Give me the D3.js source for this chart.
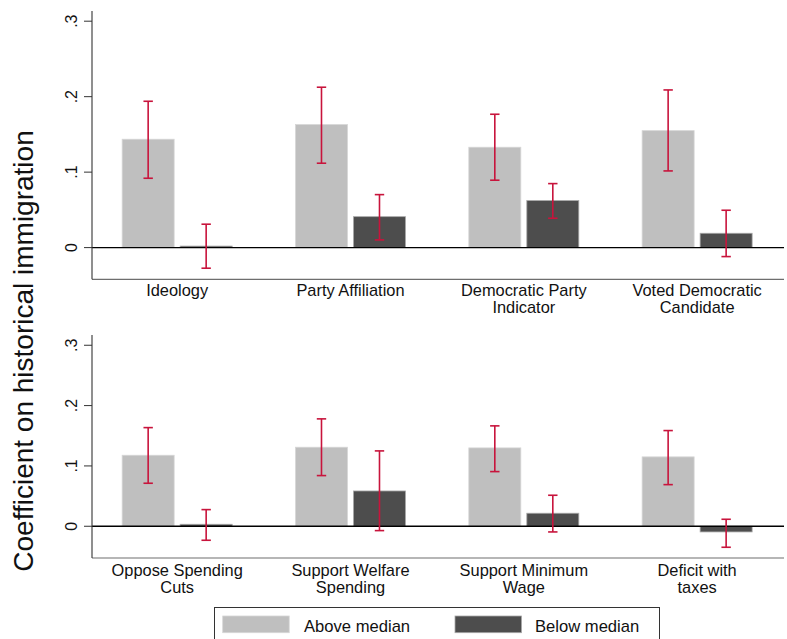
<!DOCTYPE html>
<html><head><meta charset="utf-8">
<script src="https://cdn.jsdelivr.net/npm/d3@7"></script>
<style>
html,body{margin:0;padding:0;background:#fff;}
svg{display:block;font-family:"Liberation Sans",Arial,Helvetica,sans-serif;}
</style></head>
<body>
<svg id="chart" width="787" height="639"></svg>
<script>
// ---- data ----
const topCategories = ["Ideology", "Party Affiliation", "Democratic Party\nIndicator", "Voted Democratic\nCandidate"];
const topAbove   = [0.1436, 0.163, 0.133, 0.155];
const topAboveLo = [0.0919, 0.1118, 0.0893, 0.1016];
const topAboveHi = [0.1939, 0.2125, 0.1767, 0.2089];
const topBelow   = [0.002, 0.041, 0.0623, 0.019];
const topBelowLo = [-0.0273, 0.0102, 0.0389, -0.0119];
const topBelowHi = [0.031, 0.0702, 0.0848, 0.0495];

const bottomCategories = ["Oppose Spending\nCuts", "Support Welfare\nSpending", "Support Minimum\nWage", "Deficit with\ntaxes"];
const bottomAbove   = [0.1177, 0.131, 0.1299, 0.115];
const bottomAboveLo = [0.0713, 0.084, 0.0906, 0.069];
const bottomAboveHi = [0.1635, 0.178, 0.1664, 0.1586];
const bottomBelow   = [0.0033, 0.0585, 0.0216, -0.0094];
const bottomBelowLo = [-0.0232, -0.0072, -0.0094, -0.0348];
const bottomBelowHi = [0.0276, 0.1249, 0.0514, 0.0116];

const yTicks = [0, 0.1, 0.2, 0.3];
const yTickLabels = ["0", ".1", ".2", ".3"];
const topDomain = [-0.042, 0.3135];
const bottomDomain = [-0.0526, 0.317];
const seriesNames = ["Above median", "Below median"];
const yTitle = "Coefficient on historical immigration";

// ---- styles ----
const colAbove = "#bfbfbf", colBelow = "#4d4d4d", colErr = "#c8143c";
const svg = d3.select("#chart");

function drawPanel(cats, above, aLo, aHi, below, bLo, bHi, domain, yRange, labelBase) {
  const x0 = 92, x1 = 784;
  const x = d3.scaleBand().domain(cats).range([90.5, 783.8]).padding(0);
  const inner = d3.scaleBand().domain(["above", "below"]).range([-55, 55]).paddingInner(0.1034);
  const y = d3.scaleLinear().domain(domain).range(yRange);
  const g = svg.append("g");

  // axes lines
  g.append("line").attr("x1", x0).attr("x2", x1).attr("y1", y(domain[0])).attr("y2", y(domain[0]))
    .attr("stroke", "#6e6e6e").attr("stroke-width", 1.2);

  const recs = [];
  cats.forEach((c, i) => {
    recs.push({c, k: "above", v: above[i], lo: aLo[i], hi: aHi[i]});
    recs.push({c, k: "below", v: below[i], lo: bLo[i], hi: bHi[i]});
  });
  const cx = d => x(d.c) + x.bandwidth() / 2 + inner(d.k) + inner.bandwidth() / 2;

  g.selectAll("rect.bar").data(recs).join("rect")
    .attr("x", d => x(d.c) + x.bandwidth() / 2 + inner(d.k))
    .attr("width", inner.bandwidth())
    .attr("y", d => y(Math.max(0, d.v)))
    .attr("height", d => Math.abs(y(d.v) - y(0)))
    .attr("fill", d => d.k === "above" ? colAbove : colBelow)
    .attr("stroke", d => d.k === "above" ? "#d6d6d6" : "#a8a8a8")
    .attr("stroke-width", 0.8);

  // zero line
  g.append("line").attr("x1", x0).attr("x2", x1).attr("y1", y(0)).attr("y2", y(0))
    .attr("stroke", "#000").attr("stroke-width", 1.4);

  // error bars
  const eb = g.selectAll("g.eb").data(recs).join("g").attr("stroke", colErr).attr("stroke-width", 1.6);
  eb.append("line").attr("x1", cx).attr("x2", cx).attr("y1", d => y(d.lo)).attr("y2", d => y(d.hi));
  eb.append("line").attr("x1", d => cx(d) - 4.7).attr("x2", d => cx(d) + 4.7).attr("y1", d => y(d.hi)).attr("y2", d => y(d.hi));
  eb.append("line").attr("x1", d => cx(d) - 4.7).attr("x2", d => cx(d) + 4.7).attr("y1", d => y(d.lo)).attr("y2", d => y(d.lo));

  // y axis
  g.append("line").attr("x1", x0).attr("x2", x0).attr("y1", y(domain[1])).attr("y2", y(domain[0]))
    .attr("stroke", "#333").attr("stroke-width", 1.1);
  yTicks.forEach((t, i) => {
    g.append("line").attr("x1", x0 - 8).attr("x2", x0).attr("y1", y(t)).attr("y2", y(t))
      .attr("stroke", "#333").attr("stroke-width", 1);
    g.append("text").attr("transform", `translate(77.3,${y(t)}) rotate(-90)`)
      .attr("text-anchor", "middle").attr("font-size", 16).attr("fill", "#111").text(yTickLabels[i]);
  });

  // category labels
  cats.forEach(c => {
    const lines = c.split("\n");
    const t = g.append("text").attr("text-anchor", "middle").attr("font-size", 16.4).attr("fill", "#111");
    lines.forEach((ln, j) => {
      t.append("tspan").attr("x", x(c) + x.bandwidth() / 2).attr("y", labelBase + j * 17).text(ln);
    });
  });
}

drawPanel(topCategories, topAbove, topAboveLo, topAboveHi, topBelow, topBelowLo, topBelowHi,
  topDomain, [279.3, 11], 296.3);
drawPanel(bottomCategories, bottomAbove, bottomAboveLo, bottomAboveHi, bottomBelow, bottomBelowLo, bottomBelowHi,
  bottomDomain, [558, 335], 576.3);

// y title
svg.append("text").attr("transform", "translate(32.5,351) rotate(-90)")
  .attr("text-anchor", "middle").attr("font-size", 28).attr("fill", "#111").text(yTitle);

// legend
const lg = svg.append("g");
lg.append("rect").attr("x", 214.5).attr("y", 607.5).attr("width", 445).attr("height", 60)
  .attr("fill", "#fff").attr("stroke", "#333").attr("stroke-width", 1);
const legX = [222.7, 455];
const legTextX = [304, 535];
seriesNames.forEach((s, i) => {
  lg.append("rect").attr("x", legX[i]).attr("y", 616).attr("width", 66.5).attr("height", 16.7)
    .attr("fill", i === 0 ? colAbove : colBelow).attr("stroke", i === 0 ? "#d6d6d6" : "#a8a8a8").attr("stroke-width", 0.8);
  lg.append("text").attr("x", legTextX[i]).attr("y", 631.6).attr("font-size", 16.6).attr("fill", "#111").text(s);
});
</script>
</body></html>
